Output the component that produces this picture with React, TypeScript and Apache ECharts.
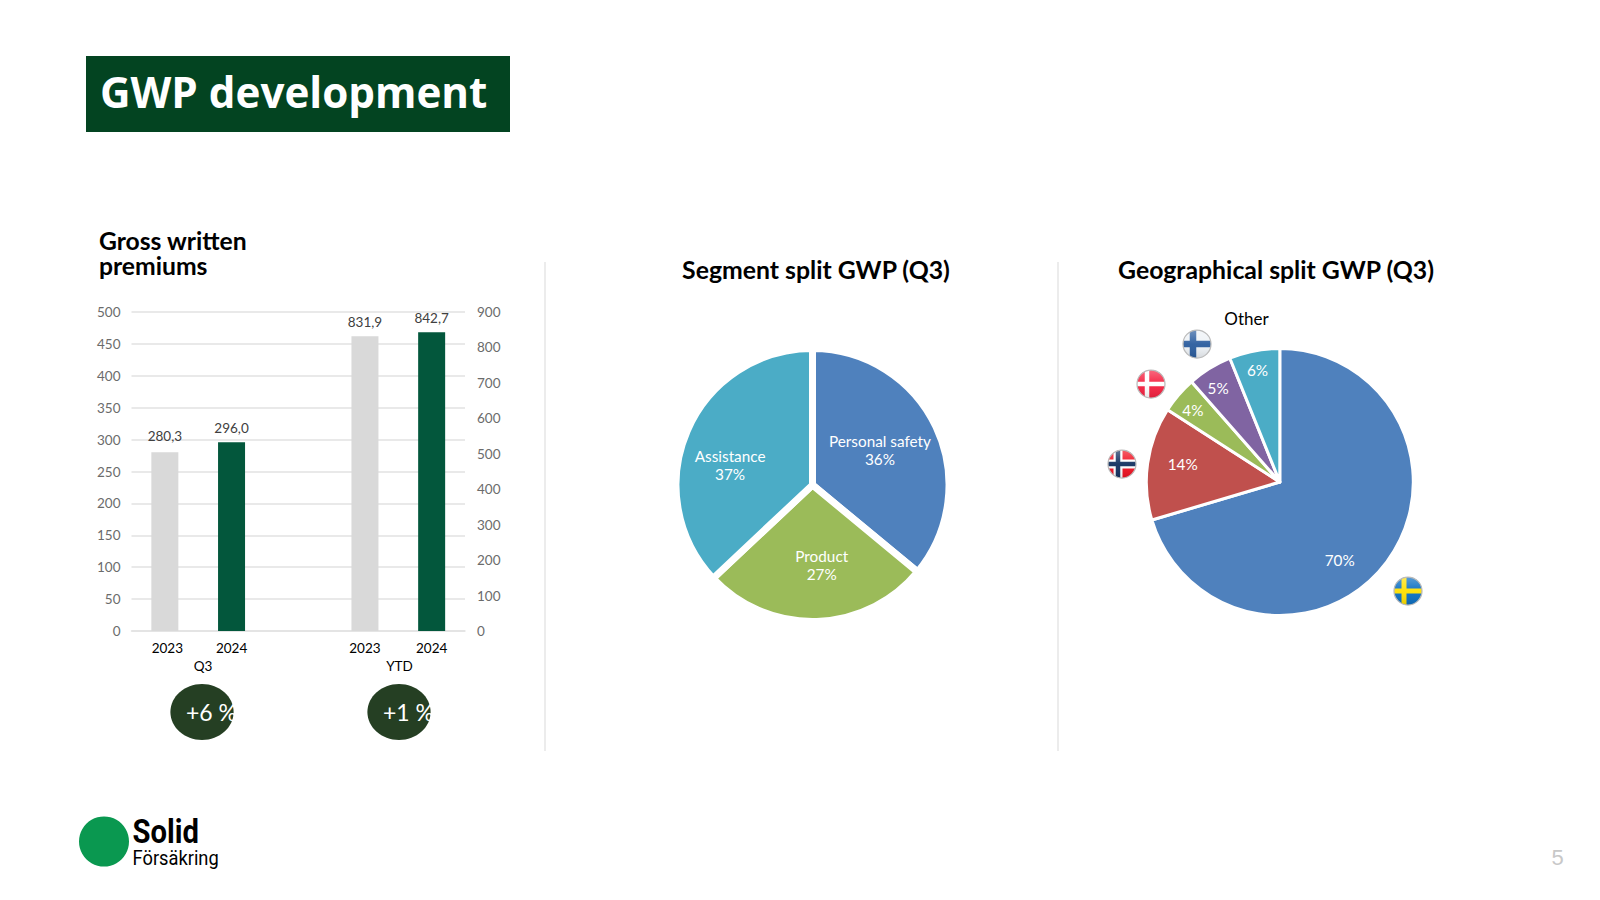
import React, { useEffect, useRef } from "react";
import * as echarts from "echarts";

const barCategories = ["2023", "2024", "", "2023", "2024"];
const q3Values = [280.3, 296.0, null, null, null];
const ytdValues = [null, null, null, 831.9, 842.7];
const leftAxisMax = 500;
const rightAxisMax = 900;
const segmentNames = ["Personal safety", "Product", "Assistance"];
const segmentValues = [36, 27, 37];
const geoNames = ["Sweden", "Norway", "Denmark", "Finland", "Other"];
const geoValues = [70.4, 13.7, 4.4, 5.4, 6.1];
const growthLabels = ["+6 %", "+1 %"];
const groupLabels = ["Q3", "YTD"];

const FONT = "Lato";
const GREY = "#D9D9D9";
const GREEN = "#03573C";

function flagUri(body: string, base: string) {
  const svg = `<svg xmlns="http://www.w3.org/2000/svg" width="60" height="60" viewBox="0 0 60 60"><defs><clipPath id="c"><circle cx="30" cy="30" r="28"/></clipPath><linearGradient id="g" x1="0" y1="0" x2="0" y2="1"><stop offset="0" stop-color="#fff" stop-opacity="0.35"/><stop offset="0.5" stop-color="#fff" stop-opacity="0.05"/><stop offset="1" stop-color="#000" stop-opacity="0.12"/></linearGradient></defs><g clip-path="url(#c)"><rect width="60" height="60" fill="${base}"/>${body}<rect width="60" height="60" fill="url(#g)"/></g><circle cx="30" cy="30" r="28" fill="none" stroke="#bbb" stroke-width="2.5"/></svg>`;
  return "data:image/svg+xml;charset=utf-8," + encodeURIComponent(svg);
}
const cross = (c: string, w: number, x = 22) =>
  `<rect x="${x - w / 2}" y="0" width="${w}" height="60" fill="${c}"/><rect x="0" y="${30 - w / 2}" width="60" height="${w}" fill="${c}"/>`;

const flags = [
  { uri: flagUri(cross("#FFE000", 10), "#0A6EC2"), cx: 1408, cy: 591 },
  { uri: flagUri(cross("#FFFFFF", 18) + cross("#12305F", 9), "#F01020"), cx: 1122, cy: 464 },
  { uri: flagUri(cross("#FFFFFF", 9), "#F5203F"), cx: 1151, cy: 384 },
  { uri: flagUri(cross("#2A5C9E", 13), "#EEF2F6"), cx: 1197, cy: 344 },
];

const segmentLabelShift = [
  { dx: 3, dy: -5 },
  { dx: 7, dy: 9 },
  { dx: -17, dy: 8.5 },
];
const geoLabelShift = [
  { dx: 4, dy: 36 },
  { dx: -28, dy: -8 },
  { dx: -34, dy: -27 },
  { dx: -25, dy: -35 },
  { dx: -9, dy: -44 },
];

export default function App() {
  const ref = useRef<HTMLDivElement>(null);
  useEffect(() => {
    document.body.style.margin = "0";
    document.body.style.background = "#fff";
    const chart = echarts.init(ref.current!, undefined, { renderer: "svg" });
    const text = (x: number, y: number, t: string, size: number, extra: any = {}, transform: any = {}) => ({
      type: "text",
      x,
      y,
      silent: true,
      ...transform,
      style: {
        text: t,
        fontFamily: FONT,
        fontSize: size,
        fill: "#000",
        textAlign: "center",
        textVerticalAlign: "middle",
        ...extra,
      },
    });
    const barSeries = (data: any[], axis: number) => ({
      type: "bar",
      yAxisIndex: axis,
      barWidth: 27,
      barGap: "-100%",
      data: data.map((v, i) => ({
        value: v,
        itemStyle: { color: i % 3 === 0 ? GREY : GREEN },
        label: i === 0 ? { distance: 9 } : undefined,
      })),
      label: {
        show: true,
        position: "top",
        distance: 7,
        fontFamily: FONT,
        fontSize: 13.5,
        color: "#404040",
        formatter: (p: any) => Number(p.value).toFixed(1).replace(".", ","),
      },
    });
    const valueAxis = (max: number, interval: number, showGrid: boolean, margin: number) => ({
      type: "value",
      min: 0,
      max,
      interval,
      axisLine: { show: false },
      axisTick: { show: false },
      splitLine: { show: showGrid, lineStyle: { color: "#E2E2E2", width: 1.5 } },
      axisLabel: { fontFamily: FONT, fontSize: 13.5, color: "#6B6B6B", margin },
    });
    const pieLabel = (fontSize: number) => ({
      show: true,
      position: "inside",
      color: "#fff",
      fontFamily: FONT,
      fontSize,
      lineHeight: 18,
    });
    chart.setOption({
      animation: false,
      backgroundColor: "#fff",
      grid: { left: 131.5, right: 1600 - 465, top: 312, height: 319 },
      xAxis: {
        type: "category",
        data: barCategories,
        axisLine: { lineStyle: { color: "#E2E2E2", width: 1.5 } },
        axisTick: { show: false },
        axisLabel: {
          fontFamily: FONT,
          fontSize: 13.5,
          color: "#000",
          margin: 10,
          interval: 0,
          formatter: (v: string, i: number) => (i === 0 ? `{a|${v}}` : v),
          rich: {
            a: { fontFamily: FONT, fontSize: 13.5, color: "#000", padding: [0, 0, 0, 5] },
          },
        },
      },
      yAxis: [valueAxis(leftAxisMax, 50, true, 11), valueAxis(rightAxisMax, 100, false, 12)],
      series: [
        barSeries(q3Values, 0),
        barSeries(ytdValues, 1),
        {
          type: "pie",
          center: [812.5, 485],
          radius: [0, 136.5],
          startAngle: 90,
          clockwise: true,
          data: segmentNames.map((name, i) => ({ name, value: segmentValues[i] })),
          color: ["#4F81BD", "#9BBB59", "#4BACC6"],
          itemStyle: { borderColor: "#fff", borderWidth: 7 },
          labelLine: { show: false },
          label: { ...pieLabel(15.3), formatter: (p: any) => `${p.name}\n${p.value}%` },
          labelLayout: (p: any) => segmentLabelShift[p.dataIndex],
        },
        {
          type: "pie",
          center: [1279.8, 482],
          radius: [0, 133.5],
          startAngle: 90,
          clockwise: true,
          data: geoNames.map((name, i) => ({ name, value: geoValues[i] })),
          color: ["#4F81BD", "#C0504D", "#9BBB59", "#8064A2", "#4BACC6"],
          itemStyle: { borderColor: "#fff", borderWidth: 3 },
          labelLine: { show: false },
          label: { ...pieLabel(15.3), formatter: (p: any) => `${Math.round(p.value)}%` },
          labelLayout: (p: any) => geoLabelShift[p.dataIndex],
        },
      ],
      graphic: [
        { type: "rect", shape: { x: 86, y: 56, width: 424, height: 76 }, style: { fill: "#034421" } },
        text(100, 91.5, "GWP development", 42.2, {
          fontFamily: "Open Sans",
          fontWeight: 700,
          fill: "#fff",
          textAlign: "left",
        }),
        text(99, 253, "Gross written\npremiums", 24.7, { fontWeight: 700, textAlign: "left", lineHeight: 25.5 }),
        text(816, 269, "Segment split GWP (Q3)", 24.8, { fontWeight: 700 }),
        text(1276, 269, "Geographical split GWP (Q3)", 24.8, { fontWeight: 700 }),
        text(203, 666, groupLabels[0], 13.5),
        text(399.5, 666, groupLabels[1], 13.5),
        { type: "ellipse", shape: { cx: 202, cy: 712, rx: 31.6, ry: 28 }, style: { fill: "#253F23" } },
        { type: "ellipse", shape: { cx: 399, cy: 712, rx: 31.6, ry: 28 }, style: { fill: "#253F23" } },
        text(186, 712, growthLabels[0], 23, { fill: "#fff", textAlign: "left" }),
        text(383, 712, growthLabels[1], 23, { fill: "#fff", textAlign: "left" }),
        { type: "line", shape: { x1: 545, y1: 262, x2: 545, y2: 751 }, style: { stroke: GREY, lineWidth: 1 } },
        { type: "line", shape: { x1: 1058, y1: 262, x2: 1058, y2: 751 }, style: { stroke: GREY, lineWidth: 1 } },
        text(1246.5, 318, "Other", 17),
        ...flags.map((f) => ({
          type: "image",
          x: f.cx - 15,
          y: f.cy - 15,
          style: { image: f.uri, width: 30, height: 30 },
        })),
        { type: "circle", shape: { cx: 104, cy: 841.5, r: 25 }, style: { fill: "#0A9850" } },
        text(132.6, 831.5, "Solid", 34, { fontFamily: "Roboto", fontWeight: 700, textAlign: "left" }, { scaleX: 0.86 }),
        text(132.6, 858.5, "Försäkring", 21, { fontFamily: "Roboto", textAlign: "left" }, { scaleX: 0.87 }),
        text(1557.5, 857, "5", 22, { fontFamily: "Liberation Sans", fill: "#C8C8C8" }),
      ],
    });
    return () => chart.dispose();
  }, []);
  return <div ref={ref} style={{ position: "fixed", left: 0, top: 0, width: 1600, height: 900 }} />;
}
